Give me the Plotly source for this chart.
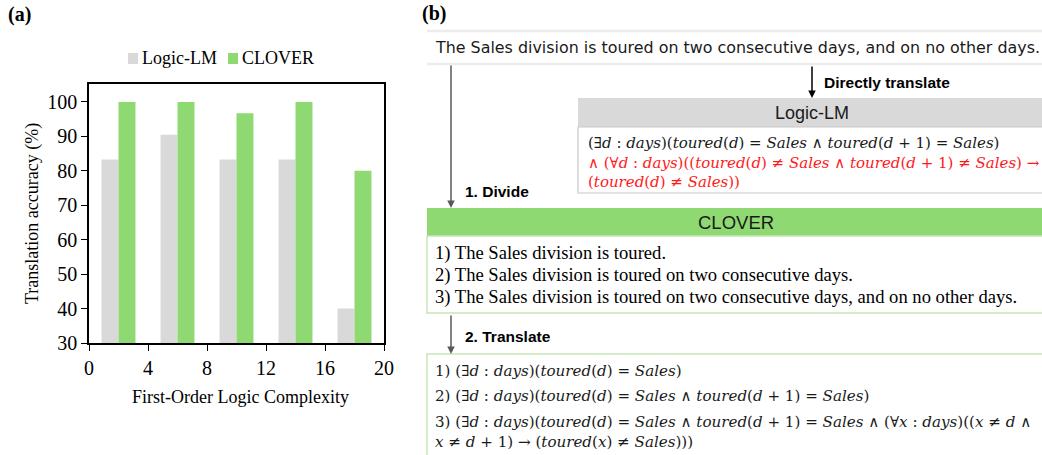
import re
import plotly.graph_objects as go

# ---------------- data (panel a) ----------------
complexity = [2, 6, 10, 14, 18]
logic_lm = [83.3, 90.5, 83.3, 83.3, 40.0]
clover = [100.0, 100.0, 96.7, 100.0, 80.0]
series_names = ["Logic-LM", "CLOVER"]
x_ticks = [0, 4, 8, 12, 16, 20]
y_ticks = [30, 40, 50, 60, 70, 80, 90, 100]

# ---------------- text (panel b) ----------------
sentence = "The Sales division is toured on two consecutive days, and on no other days."
logiclm_lines = [
    "(∃d : days)(toured(d) = Sales ∧ toured(d + 1) = Sales)",
    "∧ (∀d : days)((toured(d) ≠ Sales ∧ toured(d + 1) ≠ Sales) →",
    "(toured(d) ≠ Sales))",
]
clover_lines = [
    "1) The Sales division is toured.",
    "2) The Sales division is toured on two consecutive days.",
    "3) The Sales division is toured on two consecutive days, and on no other days.",
]
translate_lines = [
    "1) (∃d : days)(toured(d) = Sales)",
    "2) (∃d : days)(toured(d) = Sales ∧ toured(d + 1) = Sales)",
    "3) (∃d : days)(toured(d) = Sales ∧ toured(d + 1) = Sales ∧ (∀x : days)((x ≠ d ∧",
    "x ≠ d + 1) → (toured(x) ≠ Sales)))",
]

W, H = 1042, 455
GRAY = "#d9d9d9"
GREEN = "#8fd973"
SERIF = "Liberation Serif"
MATH = "DejaVu Serif"
SANS = "Liberation Sans"
HAND = "DejaVu Sans"
BAR_W = 1.15


def X(p):
    return p / W


def Y(p):
    return 1 - p / H


def mathfmt(s):
    return re.sub(r"([A-Za-z]+)", r"<i>\1</i>", s)


fig = go.Figure()
fig.add_trace(go.Bar(x=complexity, y=logic_lm, name=series_names[0], marker_color=GRAY,
                     marker_line_width=0, offset=-BAR_W, width=BAR_W, showlegend=False))
fig.add_trace(go.Bar(x=complexity, y=clover, name=series_names[1], marker_color=GREEN,
                     marker_line_width=0, offset=0, width=BAR_W, showlegend=False))

axis_common = dict(showgrid=False, zeroline=False, showline=True, linecolor="black",
                   linewidth=1.5, mirror=True, ticks="outside", ticklen=6, tickwidth=1.2,
                   tickcolor="black", tickfont=dict(family=SERIF, size=20, color="black"),
                   automargin=False, fixedrange=True)
fig.update_layout(
    width=W, height=H, margin=dict(l=0, r=0, t=0, b=0),
    paper_bgcolor="white", plot_bgcolor="white", barmode="overlay",
    xaxis=dict(domain=[X(89), X(384)], range=[0, 20], tickvals=x_ticks, **axis_common),
    yaxis=dict(domain=[Y(343), Y(84)], range=[30, 105.2], tickvals=y_ticks, **axis_common),
)

shapes = []
ann = []


def text(x, y, s, size, family, color="black", xanchor="left", angle=0):
    ann.append(dict(x=X(x), y=Y(y), xref="paper", yref="paper", text=s, showarrow=False,
                    xanchor=xanchor, yanchor="middle", textangle=angle,
                    font=dict(family=family, size=size, color=color)))


def rect(x0, y0, x1, y1, fill, line=None, lw=0):
    shapes.append(dict(type="rect", xref="paper", yref="paper", x0=X(x0), x1=X(x1),
                       y0=Y(y1), y1=Y(y0), fillcolor=fill,
                       line=dict(color=line or fill, width=lw)))


def hline(x0, x1, y, color, lw):
    shapes.append(dict(type="line", xref="paper", yref="paper", x0=X(x0), x1=X(x1),
                       y0=Y(y), y1=Y(y), line=dict(color=color, width=lw)))


def arrow(x, y0, y1, color="#404040"):
    ann.append(dict(x=X(x), y=Y(y1), xref="paper", yref="paper", ax=0, ay=-(y1 - y0),
                    axref="pixel", ayref="pixel", text="", showarrow=True, arrowhead=2,
                    arrowsize=1, arrowwidth=1.5, arrowcolor=color))


# ---- panel a labels ----
text(19, 15, "<b>(a)</b>", 20, SERIF, xanchor="center")
text(32, 214, "Translation accuracy (%)", 18, SERIF, xanchor="center", angle=-90)
text(240, 397, "First-Order Logic Complexity", 18, SERIF, xanchor="center")
rect(128, 53, 138, 64, GRAY)
text(140, 58, series_names[0], 18, SERIF)
rect(228, 53, 238, 64, GREEN)
text(240, 58, series_names[1], 18, SERIF)

# ---- panel b ----
text(434, 13, "<b>(b)</b>", 20, SERIF, xanchor="center")
hline(427, 1042, 31, "#ececec", 2.5)
hline(427, 1042, 64, "#ececec", 2.5)
text(737, 48, sentence, 15.9, HAND, color="#1a1a1a", xanchor="center")

# Logic-LM box
rect(578, 98, 1046, 127, GRAY)
rect(578, 127, 1046, 193, "white", "#c8c8c8", 1.2)
text(812, 113, "Logic-LM", 18, SANS, color="#1a1a1a", xanchor="center")
arrow(812, 65, 98, "black")
text(822, 82, "<b>Directly translate</b>", 15.5, SANS)
for i, (ln, col) in enumerate(zip(logiclm_lines, ["#1a1a1a", "#ff1a1a", "#ff1a1a"])):
    text(586, 143 + 19.5 * i, mathfmt(ln), 15, MATH, color=col)

# CLOVER box
arrow(451, 64, 208, "#595959")
text(463, 191, "<b>1. Divide</b>", 15.5, SANS)
rect(427, 208, 1046, 236, GREEN)
rect(427, 236, 1046, 313, "white", "#c5e8b7", 1.5)
text(736, 222, "CLOVER", 18.5, SANS, color="#1a1a1a", xanchor="center")
for i, ln in enumerate(clover_lines):
    text(433, 253 + 22 * i, ln, 18.6, SERIF)

# Translate box
arrow(451, 314, 354, "#595959")
text(463, 336, "<b>2. Translate</b>", 15.5, SANS)
rect(427, 354, 1046, 470, "white", "#c5e8b7", 1.5)
for i, ln in enumerate(translate_lines):
    text(433, [371, 396, 422, 442][i], mathfmt(ln), 15.1, MATH, color="#1a1a1a")

fig.update_layout(shapes=shapes, annotations=ann)
fig.write_html("out.html", config={"displayModeBar": False},
               post_script="document.body.style.margin='0px';")
